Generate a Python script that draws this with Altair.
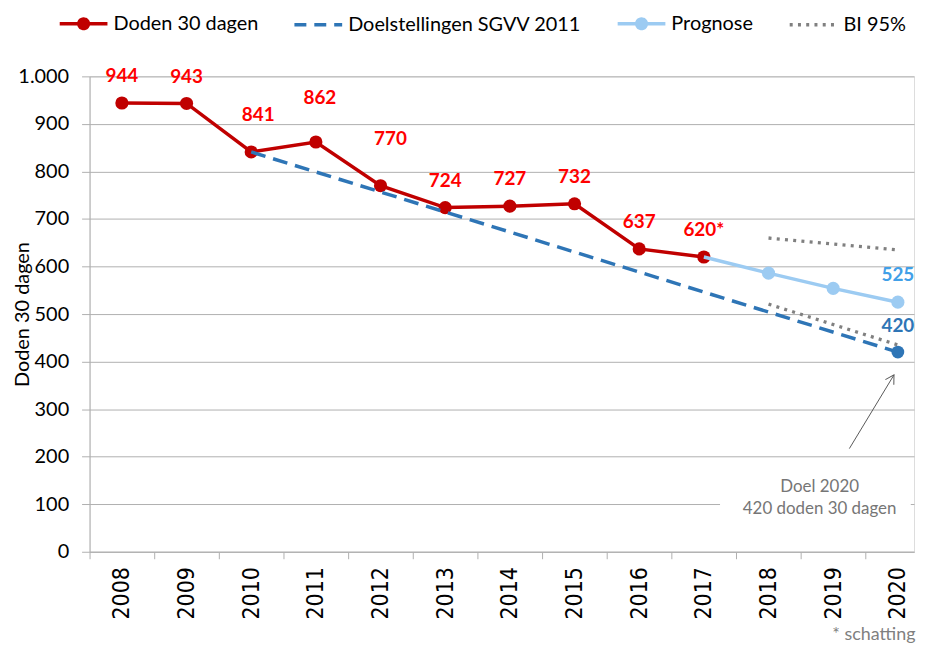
import altair as alt
import pandas as pd

# ---------------- data ----------------
doden_years = [2008, 2009, 2010, 2011, 2012, 2013, 2014, 2015, 2016, 2017]
doden_values = [944, 943, 841, 862, 770, 724, 727, 732, 637, 620]
doden_labels = ["944", "943", "841", "862", "770", "724", "727", "732", "637", "620*"]

doel_years = [2010, 2020]
doel_values = [841, 420]

prog_years = [2017, 2018, 2019, 2020]
prog_values = [620, 586, 554, 525]

bi_years = [2018, 2020]
bi_upper = [660, 635]
bi_lower = [521, 435]

series_names = ["Doden 30 dagen", "Doelstellingen SGVV 2011", "Prognose", "BI 95%"]

target_year = [2020]
target_value = [420]
target_label = ["420"]
prog_end_label = ["525"]

annot_text = ["Doel 2020\n420 doden 30 dagen"]
annot_year = [2018.79]
annot_value = [136]
box_years = [2017.25, 2020.2]
box_values = [85, 196]
arrow_years = [2019.25, 2019.94]
arrow_values = [217, 372]

year_ticks = list(range(2008, 2021))
value_ticks = list(range(0, 1001, 100))

# ---------------- styles ----------------
RED = "#C00000"
LABEL_RED = "#FF0000"
BLUE = "#2E75B6"
LIGHT = "#9CCBF2"
LIGHT_LABEL = "#41A0E8"
DOT = "#808080"
GRID = "#AFAFAF"
ANNOT = "#767676"
FONT = "Lato"

xs = alt.Scale(domain=[2007.5, 2020.25], nice=False, zero=False)
ys = alt.Scale(domain=[0, 1000], nice=False, zero=True)

x_axis = alt.Axis(
    values=year_ticks, format="d", labelAngle=270,
    labelFont="Liberation Sans Narrow, DejaVu Sans Condensed, Liberation Sans",
    labelFontSize=23, labelColor="#000000",
    tickSize=7, tickOffset=-32.5, labelOffset=32.5, labelPadding=8,
    tickColor=GRID, domainColor=GRID, grid=False,
    title="* schatting", titleX=830, titleY=88, titleAlign="right",
    titleBaseline="alphabetic", titleFont=FONT, titleFontSize=18,
    titleFontWeight="normal", titleColor="#7F7F7F",
)
y_axis = alt.Axis(
    values=value_ticks,
    labelExpr="replace(format(datum.value, ','), ',', '.')",
    labelFont=FONT, labelFontSize=20, labelColor="#000000", labelPadding=13,
    tickSize=8, tickColor=GRID, domainColor=GRID, grid=True, gridColor=GRID,
    title="Doden 30 dagen", titleX=-67, titleY=239, titleAngle=270,
    titleAlign="center", titleBaseline="middle", titleFont=FONT,
    titleFontSize=20, titleFontWeight="normal", titleColor="#000000",
)

X = alt.X("year:Q", scale=xs, axis=x_axis)
Y = alt.Y("value:Q", scale=ys, axis=y_axis)


def df(years, values, **extra):
    d = {"year": years, "value": values}
    d.update(extra)
    return pd.DataFrame(d)


doden_df = df(doden_years, doden_values, label=doden_labels)
doel_df = df(doel_years, doel_values)
prog_df = df(prog_years, prog_values)
bi_df = pd.DataFrame({
    "year": bi_years + bi_years,
    "value": bi_upper + bi_lower,
    "bound": ["upper"] * len(bi_years) + ["lower"] * len(bi_years),
})
target_df = df(target_year, target_value, label=target_label)
prog_end_df = df(prog_years[-1:], prog_values[-1:], label=prog_end_label)
box_df = pd.DataFrame({"year": [box_years[0]], "year_end": [box_years[1]],
                       "value": [box_values[0]], "value_end": [box_values[1]]})
annot_df = df(annot_year, annot_value, label=annot_text)
arrow_df = df(arrow_years, arrow_values)
arrow_tip_df = df(arrow_years[-1:], arrow_values[-1:])

# white text box behind annotation
box = alt.Chart(box_df).mark_rect(color="white").encode(
    x=X, x2="year_end:Q", y=Y, y2="value_end:Q")

doden_line = alt.Chart(doden_df).mark_line(color=RED, strokeWidth=3.5).encode(x=X, y=Y)
doden_pts = alt.Chart(doden_df).mark_point(filled=True, color=RED, size=175, opacity=1).encode(x=X, y=Y)

doel_line = alt.Chart(doel_df).mark_line(color=BLUE, strokeWidth=3.5, strokeDash=[15, 8]).encode(x=X, y=Y)
doel_pt = alt.Chart(target_df).mark_point(filled=True, color=BLUE, size=165, opacity=1).encode(x=X, y=Y)

prog_line = alt.Chart(prog_df).mark_line(color=LIGHT, strokeWidth=3.5).encode(x=X, y=Y)
prog_pts = alt.Chart(prog_df).transform_filter("datum.year > 2017").mark_point(
    filled=True, color=LIGHT, size=175, opacity=1).encode(x=X, y=Y)

bi_lines = alt.Chart(bi_df).mark_line(color=DOT, strokeWidth=3.3, strokeDash=[3, 5.3]).encode(
    x=X, y=Y, detail="bound:N")

# data labels
special = {2010: (7, -37), 2011: (4, -44), 2012: (10, -47)}
label_layers = []
base_txt = dict(color=LABEL_RED, font=FONT, fontSize=19, fontWeight="bold", baseline="middle", align="center")
normal = alt.Chart(doden_df).transform_filter(
    "indexof([2010, 2011, 2012], datum.year) < 0").mark_text(dy=-27, **base_txt).encode(x=X, y=Y, text="label:N")
label_layers.append(normal)
for yr, (ddx, ddy) in special.items():
    label_layers.append(
        alt.Chart(doden_df).transform_filter(f"datum.year == {yr}").mark_text(
            dx=ddx, dy=ddy, **base_txt).encode(x=X, y=Y, text="label:N"))

prog_lbl = alt.Chart(prog_end_df).mark_text(
    dy=-27, color=LIGHT_LABEL, font=FONT, fontSize=19, fontWeight="bold", baseline="middle").encode(
    x=X, y=Y, text="label:N")
target_lbl = alt.Chart(target_df).mark_text(
    dy=-26, color=BLUE, font=FONT, fontSize=19, fontWeight="bold", baseline="middle").encode(
    x=X, y=Y, text="label:N")

annot = alt.Chart(annot_df).mark_text(
    color=ANNOT, font=FONT, fontSize=17, lineBreak="\n", lineHeight=22,
    baseline="middle", align="center").encode(x=X, y=Y, text="label:N")
arrow = alt.Chart(arrow_df).mark_line(color="#595959", strokeWidth=1).encode(x=X, y=Y)
arrow_head = alt.Chart(arrow_tip_df).mark_point(
    shape="M-0.55,0.95L0,0L0.55,0.95", angle=31, size=324, filled=False,
    color="#595959", strokeWidth=1, opacity=1).encode(x=X, y=Y)

# legend layer (no visible marks, only legend)
circ_line = ("M-1,0L1,0"
             "M0.2,0A0.2,0.2,0,1,1,-0.2,0A0.2,0.2,0,1,1,0.2,0"
             "M0.06,0A0.06,0.06,0,1,1,-0.06,0A0.06,0.06,0,1,1,0.06,0")
plain_line = "M-1,0L1,0"
legend_df = pd.DataFrame({"series": series_names, "year": [None] * 4, "value": [None] * 4})
legend = alt.Legend(
    orient="none", legendX=-32, legendY=-79, direction="horizontal", columns=4,
    gridAlign="each", title=None, symbolSize=2304, symbolStrokeWidth=3.5,
    labelFont=FONT, labelFontSize=20, labelColor="#000000", labelOffset=4,
    columnPadding=29, padding=0, labelLimit=400,
)
legend_layer = alt.Chart(legend_df).mark_point(filled=False, opacity=1, strokeWidth=3.5).encode(
    x=X, y=Y,
    color=alt.Color("series:N", scale=alt.Scale(domain=series_names, range=[RED, BLUE, LIGHT, DOT]),
                    legend=legend, sort=series_names),
    shape=alt.Shape("series:N", scale=alt.Scale(domain=series_names,
                                                range=[circ_line, plain_line, circ_line, plain_line]),
                    legend=legend, sort=series_names),
    strokeDash=alt.StrokeDash("series:N", scale=alt.Scale(domain=series_names,
                                                          range=[[1, 0], [12, 8], [1, 0], [3, 5.3]]),
                              legend=legend, sort=series_names),
)

chart = alt.layer(
    box, doden_line, doden_pts, doel_line, doel_pt, prog_line, prog_pts, bi_lines,
    *label_layers, prog_lbl, target_lbl, annot, arrow, arrow_head, legend_layer,
).properties(
    width=829, height=478,
    autosize=alt.AutoSizeParams(type="none"),
    padding={"left": 82, "top": 67, "right": 4, "bottom": 92},
).configure_view(stroke=None).configure(font=FONT)

chart.save("out.html", embed_options={"renderer": "svg", "actions": False})
